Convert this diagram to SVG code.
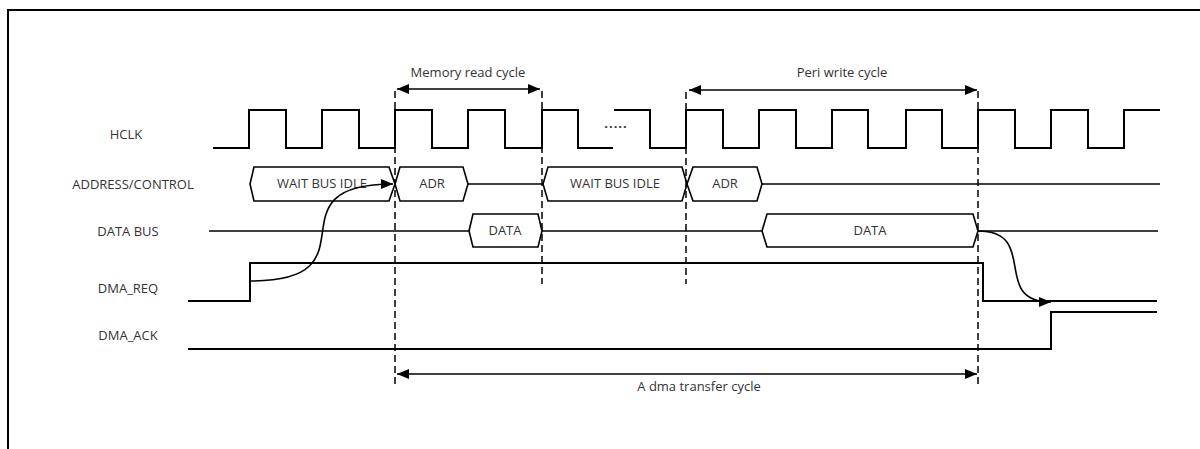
<svg xmlns="http://www.w3.org/2000/svg" width="1200" height="449" viewBox="0 0 1200 449">
<style>
text{font-family:"Open Sans","Liberation Sans",sans-serif;font-size:13px;fill:#333}
.lbl{text-anchor:middle}
.sig{fill:none;stroke:#000;stroke-width:2}
.bus{fill:#fff;stroke:#000;stroke-width:1.6}
.ln{fill:none;stroke:#000;stroke-width:1.6}
.dash{fill:none;stroke:#000;stroke-width:1.5;stroke-dasharray:7 4}
.arr{fill:none;stroke:#000;stroke-width:1.6}
</style>
<defs>
<marker id="ah" markerUnits="userSpaceOnUse" markerWidth="13" markerHeight="10" refX="12" refY="5" orient="auto-start-reverse">
<path d="M0,0 L12,5 L0,10 z" fill="#000"/>
</marker>
</defs>
<rect x="8" y="10" width="1250" height="500" fill="#fff" stroke="#000" stroke-width="2"/>

<g id="labels">
<text x="126" y="139" class="lbl">HCLK</text>
<text x="133" y="189" class="lbl">ADDRESS/CONTROL</text>
<text x="128" y="236" class="lbl">DATA BUS</text>
<text x="128" y="293" class="lbl">DMA_REQ</text>
<text x="128" y="340" class="lbl">DMA_ACK</text>
</g>

<g id="hclk">
<path class="sig" d="M213,148 H249 V110 H286 V148 H322 V110 H359 V148 H395 V110 H432 V148 H468 V110 H505 V148 H542 V110 H578 V148 H613"/>
<path class="sig" d="M614,110 H650 V148 H686 V110 H723 V148 H759 V110 H796 V148 H832 V110 H868 V148 H906 V110 H942 V148 H978 V110 H1015 V148 H1051 V110 H1088 V148 H1124 V110 H1160"/>
<text x="616" y="128" class="lbl" style="font-weight:bold;letter-spacing:1px">.....</text>
</g>

<g id="address">
<polygon class="bus" points="250,184 254,167 389,167 395,184 389,201 254,201"/>
<text x="322" y="188" class="lbl">WAIT BUS IDLE</text>
<polygon class="bus" points="395,184 400,167 463,167 468,184 463,201 400,201"/>
<text x="432" y="188" class="lbl">ADR</text>
<path class="ln" d="M468,184 H543"/>
<polygon class="bus" points="543,184 548,167 682,167 687,184 682,201 548,201"/>
<text x="615" y="188" class="lbl">WAIT BUS IDLE</text>
<polygon class="bus" points="687,184 693,167 757,167 762,184 757,201 693,201"/>
<text x="725" y="188" class="lbl">ADR</text>
<path class="ln" d="M762,184 H1160"/>
</g>

<g id="databus">
<path class="ln" d="M209,231 H469 M542,231 H762 M978,231 H1158"/>
<polygon class="bus" points="469,231 473,214 538,214 542,231 538,247 473,247"/>
<text x="505" y="235" class="lbl">DATA</text>
<polygon class="bus" points="762,231 767,214 973,214 978,231 973,247 767,247"/>
<text x="870" y="235" class="lbl">DATA</text>
</g>

<g id="dma_req">
<path class="sig" d="M188,301 H250 V263 H983 V301 H1157"/>
</g>

<g id="dma_ack">
<path class="sig" d="M188,349 H1051 V312 H1157"/>
</g>

<g id="connectors">
<path class="dash" d="M395,91 V386"/>
<path class="dash" d="M542,91 V284"/>
<path class="dash" d="M686,92 V284"/>
<path class="dash" d="M978,91 V386"/>
<path class="arr" d="M397,89 H540" marker-start="url(#ah)" marker-end="url(#ah)"/>
<path class="arr" d="M689,90 H977" marker-start="url(#ah)" marker-end="url(#ah)"/>
<path class="arr" d="M397,374 H977" marker-start="url(#ah)" marker-end="url(#ah)"/>
<path class="arr" d="M251,281 C380,281 265,184 393,184" marker-end="url(#ah)"/>
<path class="arr" d="M978,231 C1040,231 990,302 1051,302" marker-end="url(#ah)"/>
</g>

<g id="annotations">
<text x="468" y="77" class="lbl">Memory read cycle</text>
<text x="842" y="77" class="lbl">Peri write cycle</text>
<text x="699" y="391" class="lbl">A dma transfer cycle</text>
</g>
</svg>
